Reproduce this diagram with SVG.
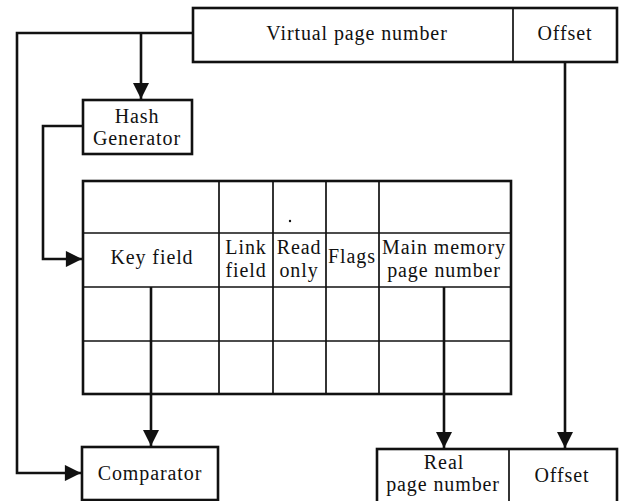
<svg xmlns="http://www.w3.org/2000/svg" width="621" height="501" viewBox="0 0 621 501">
  <style>
    .box { fill: #fff; stroke: #111; stroke-width: 2.6; }
    .grid { stroke: #111; stroke-width: 1.7; fill: none; }
    .wire { fill: none; stroke: #111; stroke-width: 2.6; stroke-linejoin: miter; }
    text { font-family: "Liberation Serif", "Times New Roman", serif; font-size: 20px; fill: #111; text-anchor: middle; letter-spacing: 0.9px; }
  </style>
  <defs>
    <marker id="arrow" viewBox="0 0 10 10" refX="10" refY="5" markerWidth="7.5" markerHeight="6.2" markerUnits="strokeWidth" orient="auto">
      <path d="M0,0 L10,5 L0,10 Z" fill="#111"/>
    </marker>
  </defs>
  <rect width="621" height="501" fill="#fff"/>

  <!-- virtual address register -->
  <g id="virtual-address">
    <rect class="box" x="193" y="8" width="424" height="54"/>
    <line class="grid" x1="513" y1="8" x2="513" y2="62" stroke-width="2"/>
    <text x="357" y="40">Virtual page number</text>
    <text x="565" y="40">Offset</text>
  </g>

  <!-- hash generator -->
  <g id="hash-generator">
    <rect class="box" x="83" y="100" width="109" height="54"/>
    <text x="137" y="123">Hash</text>
    <text x="137" y="145" letter-spacing="0.3">Generator</text>
  </g>

  <!-- page table -->
  <g id="page-table">
    <rect class="box" x="83" y="181" width="428" height="213"/>
    <line class="grid" x1="83" y1="233" x2="511" y2="233"/>
    <line class="grid" x1="83" y1="287" x2="511" y2="287"/>
    <line class="grid" x1="83" y1="341" x2="511" y2="341"/>
    <line class="grid" x1="219" y1="181" x2="219" y2="394"/>
    <line class="grid" x1="273" y1="181" x2="273" y2="394"/>
    <line class="grid" x1="326" y1="181" x2="326" y2="394"/>
    <line class="grid" x1="379" y1="181" x2="379" y2="394"/>
    <circle cx="290" cy="221" r="1.2" fill="#111"/>
    <text x="152" y="264">Key field</text>
    <text x="246" y="254" letter-spacing="0.3">Link</text>
    <text x="246" y="277" letter-spacing="0.3">field</text>
    <text x="299" y="254" letter-spacing="0.2">Read</text>
    <text x="299" y="277" letter-spacing="0.2">only</text>
    <text x="352" y="263" letter-spacing="0">Flags</text>
    <text x="444" y="254" letter-spacing="0.2">Main memory</text>
    <text x="444" y="277" letter-spacing="0.5">page number</text>
  </g>

  <!-- comparator -->
  <g id="comparator">
    <rect class="box" x="82" y="447" width="136" height="53"/>
    <text x="150" y="480">Comparator</text>
  </g>

  <!-- real address register -->
  <g id="real-address">
    <rect class="box" x="377" y="449" width="240" height="54"/>
    <line class="grid" x1="509" y1="449" x2="509" y2="501" stroke-width="2"/>
    <text x="444" y="469">Real</text>
    <text x="443" y="491">page number</text>
    <text x="562" y="482">Offset</text>
  </g>

  <!-- connectors -->
  <g id="connectors">
    <polyline class="wire" points="193,33 17,33 17,473 81,473" marker-end="url(#arrow)"/>
    <polyline class="wire" points="141,33 141,99" marker-end="url(#arrow)"/>
    <polyline class="wire" points="83,126 43,126 43,259 82,259" marker-end="url(#arrow)"/>
    <polyline class="wire" points="151,287 151,446" marker-end="url(#arrow)"/>
    <polyline class="wire" points="444,287 444,448" marker-end="url(#arrow)"/>
    <polyline class="wire" points="565,62 565,448" marker-end="url(#arrow)"/>
  </g>
</svg>
